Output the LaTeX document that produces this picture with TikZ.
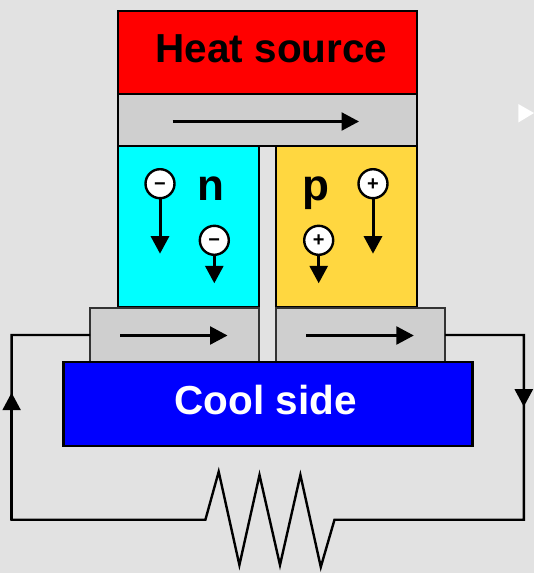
\documentclass[tikz,border=0pt]{standalone}
\usepackage{fontspec}
\setmainfont{Liberation Sans}
\usetikzlibrary{positioning, arrows.meta}

\definecolor{backdrop}{HTML}{E2E2E2}
\definecolor{plategrey}{HTML}{CFCFCF}
\definecolor{pyellow}{HTML}{FFD740}
\definecolor{ncyan}{HTML}{00FFFF}
\definecolor{hotred}{HTML}{FF0000}
\definecolor{coolblue}{HTML}{0000FF}

\tikzstyle{block} = [
    rectangle,
    draw=black,
    line width=2.5pt,
    inner sep=0pt,
    outer sep=0pt
]
\tikzstyle{plate} = [
    block,
    fill=plategrey
]
\tikzstyle{thinplate} = [
    plate,
    draw=black!80,
    line width=1.8pt,
    minimum width=169pt,
    minimum height=54pt
]
\tikzstyle{leg} = [
    block,
    minimum width=141pt,
    minimum height=161pt
]
\tikzstyle{title} = [
    inner sep=0pt,
    font=\fontsize{40.5}{41}\selectfont\bfseries
]
\tikzstyle{letter} = [
    inner sep=0pt,
    anchor=base,
    font=\fontsize{44}{44}\selectfont\bfseries
]
\tikzstyle{charge} = [
    circle,
    draw=black,
    fill=white,
    line width=2.4pt,
    minimum size=29pt,
    inner sep=0pt,
    outer sep=0pt,
    text height=12.8pt,
    text depth=0pt,
    font=\fontsize{20}{20}\selectfont\bfseries
]
\tikzstyle{arrow} = [line width=2.5pt,-{Triangle[length=17.5pt,width=18pt]}]
\tikzstyle{wire} = [line width=2.4pt]

\begin{document}
\begin{tikzpicture}[x=1pt, y=-1pt]

\fill [backdrop] (0,0) rectangle (534,573);
\useasboundingbox (0,0) rectangle (534,573);

\node (heat) [block, fill=hotred, minimum width=299pt, minimum height=83pt] at (267.5,52.5) {};
\node (topplate) [plate, minimum width=299pt, minimum height=52pt, below=0pt of heat] {};

\node (nleg) [leg, fill=ncyan, below right=0pt and 0pt of topplate.south west] {};
\node (pleg) [leg, fill=pyellow, below left=0pt and 0pt of topplate.south east] {};

\node (leftplate) [thinplate, below left=1pt and 0pt of nleg.south east] {};
\node (rightplate) [thinplate, below right=1pt and 0pt of pleg.south west] {};

\node (cool) [block, fill=coolblue, minimum width=409pt, minimum height=84pt] at (268,404) {};

\node (heatlabel) [title, at={(heat)}, xshift=4pt, yshift=4pt] {Heat source};
\node (coollabel) [title, white, at={(cool)}, xshift=-2.5pt, yshift=4pt] {Cool side};

\node (nlabel) [letter] at (211,200) {n};
\node (plabel) [letter] at (316,200) {p};

\node (minusa) [charge] at (160,183.7) {−};
\node (minusb) [charge] at (214.3,240.3) {−};
\node (plusa) [charge] at (373,183.7) {+};
\node (plusb) [charge] at (318.7,240.3) {+};

\coordinate (minusatip) at (160,253.7);
\coordinate (minusbtip) at (214.3,283.3);
\coordinate (plusatip) at (373,253.7);
\coordinate (plusbtip) at (318.7,283.3);

\draw [arrow, line width=3pt] (minusa) -- (minusatip);
\draw [arrow, line width=3pt] (minusb) -- (minusbtip);
\draw [arrow, line width=3pt] (plusa) -- (plusatip);
\draw [arrow, line width=3pt] (plusb) -- (plusbtip);

\coordinate (topstart) at (172.5,121.5);
\coordinate (topend) at (359,121.5);
\coordinate (leftstart) at (120,335.5);
\coordinate (leftend) at (227.5,335.5);
\coordinate (rightstart) at (306,335.5);
\coordinate (rightend) at (413.8,335.5);

\draw [arrow] (topstart) -- (topend);
\draw [arrow] (leftstart) -- (leftend);
\draw [arrow] (rightstart) -- (rightend);

\coordinate (wirebl) at (11.6,519.7);
\coordinate (wirebr) at (523.8,519.7);
\coordinate (wiretr) at (523.8,335);
\coordinate (wireup) at (11.6,392.7);
\coordinate (wiredown) at (523.8,406.7);

\draw [wire] (leftplate.west) -| (wirebl)
    -- (205.4,519.7) -- (218.7,471.7) -- (239.4,565) -- (259.5,475)
    -- (280,565) -- (300.4,475) -- (320.8,567) -- (334.5,519.7)
    -- (wirebr) |- (rightplate.east);

\draw [arrow, line width=2.4pt] (wirebl) -- (wireup);
\draw [arrow, line width=2.4pt] (wiretr) -- (wiredown);

\fill [white] (518.3,104) -- (534,113) -- (518.3,122.5) -- cycle;

\end{tikzpicture}
\end{document}
